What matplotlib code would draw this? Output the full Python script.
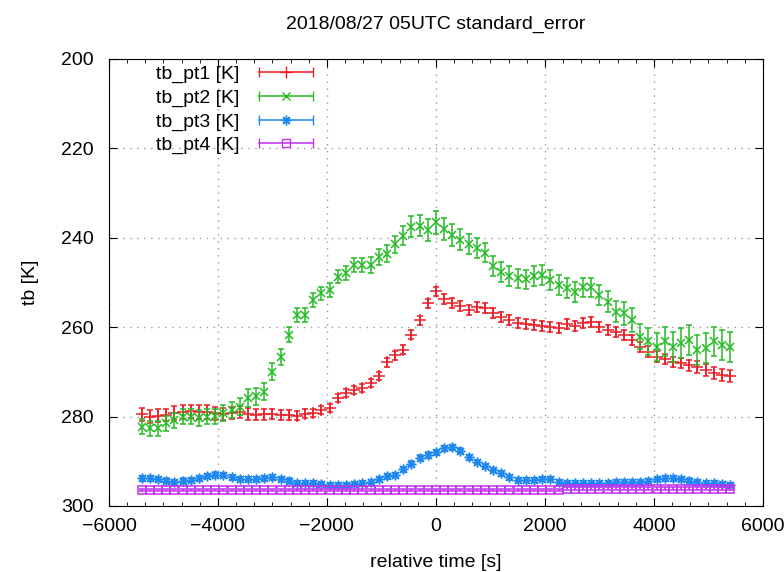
import matplotlib.pyplot as plt
import numpy as np
from matplotlib.lines import Line2D
from matplotlib.legend_handler import HandlerLine2D, HandlerTuple
from matplotlib.ticker import AutoMinorLocator

plt.rcParams['font.family'] = ['Liberation Sans', 'DejaVu Sans']
plt.rcParams['font.size'] = 14

# relative time [s], one point every 150 s
time_s = np.arange(-5400, 5401, 150)

tb_pt1 = [279.5, 280.0, 279.8, 279.6, 279.2, 279.0, 278.8, 279.0, 279.0, 279.3,
          279.4, 279.2, 279.0, 279.4, 279.6, 279.5, 279.5, 279.6, 279.6, 279.8,
          279.4, 279.2, 278.5, 278.1, 275.8, 274.8, 274.0, 273.6, 272.5, 271.0,
          267.8, 266.3, 265.0, 261.7, 258.4, 254.6, 252.0, 253.7, 254.6, 255.3,
          256.2, 255.5, 255.8, 256.9, 257.7, 258.4, 259.0, 259.3, 259.5, 259.7,
          259.9, 260.2, 259.3, 259.7, 259.0, 258.8, 259.9, 260.6, 261.0, 261.7,
          262.9, 264.4, 265.5, 266.6, 267.1, 267.8, 268.0, 268.5, 268.9, 269.6,
          270.2, 270.7, 270.9]
err_pt1 = [1.5, 1.5, 1.5, 1.4, 1.5, 1.5, 1.5, 1.5, 1.5, 1.4,
           1.4, 1.4, 1.3, 1.3, 1.2, 1.2, 1.1, 1.1, 1.1, 1.0,
           1.0, 1.0, 0.9, 0.9, 0.9, 0.9, 0.9, 0.9, 0.9, 0.9,
           1.0, 1.0, 1.0, 1.0, 1.0, 1.0, 1.1, 1.1, 1.1, 1.1,
           1.1, 1.1, 1.1, 1.1, 1.1, 1.1, 1.1, 1.1, 1.1, 1.1,
           1.1, 1.1, 1.1, 1.1, 1.1, 1.1, 1.1, 1.1, 1.1, 1.1,
           1.1, 1.1, 1.2, 1.2, 1.2, 1.2, 1.2, 1.2, 1.3, 1.3,
           1.3, 1.3, 1.3]

tb_pt2 = [282.3, 282.6, 282.6, 281.5, 280.8, 280.0, 280.0, 280.3, 280.0, 279.9,
          279.2, 278.5, 277.8, 275.9, 275.5, 274.4, 270.0, 266.6, 261.7, 257.3,
          257.3, 253.9, 252.4, 251.7, 248.7, 247.9, 246.1, 246.1, 246.1, 244.4,
          243.6, 241.5, 239.5, 237.5, 237.3, 238.3, 236.5, 238.0, 239.4, 240.4,
          241.4, 242.3, 243.3, 246.3, 247.6, 248.5, 249.1, 249.3, 248.5, 248.3,
          249.4, 250.6, 251.3, 252.1, 251.1, 251.1, 252.8, 254.3, 256.5, 256.9,
          258.4, 262.1, 263.2, 264.4, 263.2, 264.4, 263.6, 262.9, 265.1, 264.7,
          263.2, 264.0, 264.4]
err_pt2 = [1.7, 1.7, 1.7, 1.7, 1.7, 1.7, 1.7, 1.7, 1.7, 1.7,
           1.8, 1.8, 1.9, 2.0, 2.0, 2.0, 1.9, 1.8, 1.7, 1.6,
           1.6, 1.5, 1.5, 1.5, 1.5, 1.5, 1.6, 1.6, 1.7, 1.8,
           1.9, 2.0, 2.2, 2.3, 2.4, 2.5, 2.6, 2.5, 2.4, 2.3,
           2.2, 2.2, 2.2, 2.2, 2.2, 2.2, 2.2, 2.2, 2.2, 2.2,
           2.2, 2.2, 2.2, 2.2, 2.2, 2.2, 2.2, 2.3, 2.4, 2.5,
           2.6, 2.8, 3.0, 3.1, 3.2, 3.3, 3.4, 3.4, 3.4, 3.4,
           3.3, 3.3, 3.3]

tb_pt3 = [293.8, 293.8, 294.0, 294.3, 294.6, 294.3, 294.2, 293.8, 293.3, 293.0,
          293.1, 293.6, 294.0, 294.0, 294.0, 293.8, 293.6, 294.0, 294.3, 294.8,
          294.9, 294.9, 295.1, 295.3, 295.3, 295.3, 295.1, 294.9, 294.6, 294.0,
          293.4, 293.1, 291.8, 290.5, 289.3, 288.6, 288.0, 287.1, 286.9, 287.6,
          289.1, 290.1, 291.1, 292.0, 292.7, 293.6, 294.2, 294.2, 294.2, 294.0,
          294.0, 294.6, 294.9, 294.9, 294.9, 294.9, 294.8, 294.8, 294.7, 294.6,
          294.6, 294.6, 294.4, 294.0, 293.8, 293.8, 294.0, 294.3, 294.6, 294.8,
          294.9, 295.1, 295.3]
err_pt3 = [0.5, 0.5, 0.5, 0.5, 0.5, 0.5, 0.5, 0.5, 0.5, 0.5,
           0.5, 0.5, 0.5, 0.5, 0.5, 0.5, 0.5, 0.5, 0.5, 0.5,
           0.5, 0.5, 0.5, 0.5, 0.5, 0.5, 0.5, 0.5, 0.5, 0.5,
           0.5, 0.5, 0.5, 0.5, 0.6, 0.6, 0.6, 0.6, 0.6, 0.6,
           0.5, 0.5, 0.5, 0.5, 0.5, 0.5, 0.5, 0.5, 0.5, 0.5,
           0.5, 0.5, 0.5, 0.5, 0.5, 0.5, 0.5, 0.5, 0.5, 0.5,
           0.5, 0.5, 0.5, 0.5, 0.5, 0.5, 0.5, 0.5, 0.5, 0.5,
           0.5, 0.5, 0.5]

tb_pt4 = [296.4, 296.4, 296.4, 296.4, 296.4, 296.4, 296.4, 296.4, 296.4, 296.4,
          296.4, 296.4, 296.4, 296.4, 296.4, 296.4, 296.4, 296.4, 296.4, 296.4,
          296.4, 296.4, 296.4, 296.4, 296.4, 296.4, 296.4, 296.4, 296.4, 296.4,
          296.4, 296.4, 296.4, 296.4, 296.4, 296.4, 296.4, 296.4, 296.4, 296.4,
          296.4, 296.4, 296.4, 296.4, 296.4, 296.4, 296.4, 296.4, 296.4, 296.4,
          296.4, 296.4, 296.1, 296.1, 296.1, 296.1, 296.1, 296.1, 296.1, 296.1,
          296.1, 296.1, 296.1, 296.1, 296.1, 296.1, 296.1, 296.1, 296.1, 296.1,
          296.1, 296.1, 296.1]
err_pt4 = [0.3, 0.3, 0.3, 0.3, 0.3, 0.3, 0.3, 0.3, 0.3, 0.3,
           0.3, 0.3, 0.3, 0.3, 0.3, 0.3, 0.3, 0.3, 0.3, 0.3,
           0.3, 0.3, 0.3, 0.3, 0.3, 0.3, 0.3, 0.3, 0.3, 0.3,
           0.3, 0.3, 0.3, 0.3, 0.3, 0.3, 0.3, 0.3, 0.3, 0.3,
           0.3, 0.3, 0.3, 0.3, 0.3, 0.3, 0.3, 0.3, 0.3, 0.3,
           0.3, 0.3, 0.3, 0.3, 0.3, 0.3, 0.3, 0.3, 0.3, 0.3,
           0.3, 0.3, 0.3, 0.3, 0.3, 0.3, 0.3, 0.3, 0.3, 0.3,
           0.3, 0.3, 0.3]

labels = ['tb_pt1 [K]', 'tb_pt2 [K]', 'tb_pt3 [K]', 'tb_pt4 [K]']
colors = ['#ee1c24', '#22bb22', '#1e88f0', '#c030f0']
markers = ['+', 'x', (8, 2, 0), 's']
msizes = [8, 6, 7, 5.5]


def main():
    fig = plt.figure(figsize=(7.84, 5.72), dpi=100)
    ax = fig.add_axes([0.139, 0.1154, 0.834, 0.7815])

    series = [(tb_pt1, err_pt1), (tb_pt2, err_pt2), (tb_pt3, err_pt3), (tb_pt4, err_pt4)]
    handles = []
    hmap = {}
    for (y, e), lab, c, m, ms in zip(series, labels, colors, markers, msizes):
        ax.errorbar(time_s, y, yerr=e, fmt='none', ecolor=c, elinewidth=1.1,
                    capsize=2.5, capthick=1.1)
        ax.plot(time_s, y, linestyle='none', marker=m, markersize=ms, color=c,
                markerfacecolor='none', markeredgewidth=1.1)
        # gnuplot-like legend sample: horizontal bar with end caps + marker
        bar = Line2D([], [], color=c, lw=1.1, marker='|', markersize=7)
        dot = Line2D([], [], color=c, linestyle='none', marker=m, markersize=ms,
                     markerfacecolor='none')
        hmap[bar] = HandlerLine2D(numpoints=2)
        handles.append((bar, dot))

    hmap[tuple] = HandlerTuple(ndivide=1)
    ax.legend(handles, labels, handler_map=hmap, loc='upper left',
              bbox_to_anchor=(0.072, 0.985), frameon=False, markerfirst=False,
              handlelength=3.4, handletextpad=0.7, labelspacing=0.3,
              borderpad=0, borderaxespad=0)

    ax.set_xlim(-6000, 6000)
    ax.set_ylim(300, 200)
    ax.set_xticks(np.arange(-6000, 6001, 2000))
    ax.set_yticks(np.arange(200, 301, 20))
    ax.xaxis.set_minor_locator(AutoMinorLocator(6))
    ax.tick_params(which='both', direction='in', top=True, right=True)
    ax.tick_params(which='major', length=6)
    ax.tick_params(axis='x', which='major', pad=9)
    ax.tick_params(axis='y', which='major', pad=11)
    ax.tick_params(which='minor', length=3)
    ax.grid(True, which='major', linestyle=(0, (1, 4)), color='#999999', lw=1)

    ax.set_title('2018/08/27 05UTC standard_error', fontsize=14, pad=22)
    ax.set_xlabel('relative time [s]', labelpad=13)
    ax.set_ylabel('tb [K]', labelpad=16)

    fig.savefig('out.png', dpi=100)


if __name__ == '__main__':
    main()
